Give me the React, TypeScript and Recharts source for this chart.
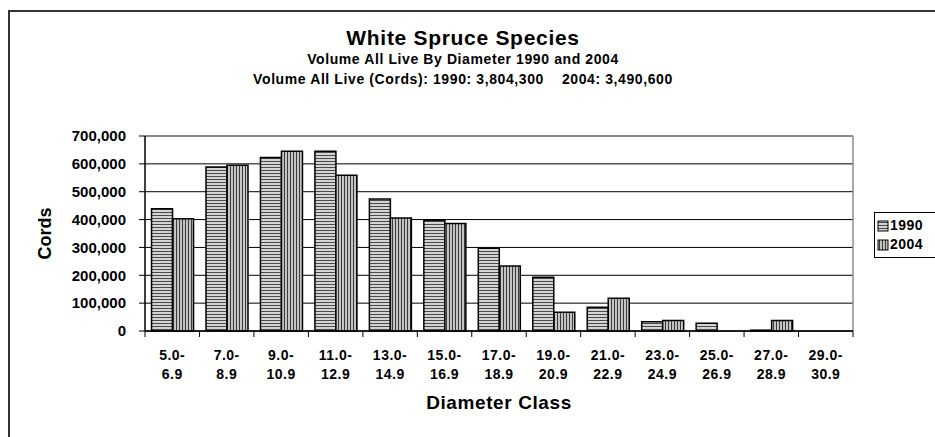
import { BarChart, Bar, XAxis, YAxis, CartesianGrid, Legend, ReferenceLine } from "recharts";

const diameterClasses = [
  "5.0-6.9", "7.0-8.9", "9.0-10.9", "11.0-12.9", "13.0-14.9", "15.0-16.9", "17.0-18.9",
  "19.0-20.9", "21.0-22.9", "23.0-24.9", "25.0-26.9", "27.0-28.9", "29.0-30.9",
];
const cords1990 = [439000, 589000, 623000, 645000, 474000, 398000, 297000, 193000, 85000, 33000, 28000, 3000, 0];
const cords2004 = [403000, 595000, 645000, 559000, 406000, 386000, 233000, 67000, 118000, 38000, 0, 38000, 0];
const yTicks = [0, 100000, 200000, 300000, 400000, 500000, 600000, 700000];

const seriesNames = ["1990", "2004"];
const patternIds = ["stripe-h", "stripe-v"];

const data = diameterClasses.map((c, i) => ({
  name: c,
  y1990: cords1990[i],
  y2004: cords2004[i],
}));

const FONT = "'Liberation Sans', Arial, sans-serif";
const LEGEND_W = 80;

const XTick = (props: any) => {
  const { x, y, payload, width, visibleTicksCount, index } = props;
  const band = width && visibleTicksCount ? width / visibleTicksCount : 708 / 13;
  const label: string = payload.value;
  const cut = label.indexOf("-") + 1;
  const isLast = index === visibleTicksCount - 1;
  return (
    <g>
      <line x1={x - band / 2} x2={x - band / 2} y1={y} y2={y + 6} stroke="#000" strokeWidth={1} />
      {isLast && <line x1={x + band / 2} x2={x + band / 2} y1={y} y2={y + 6} stroke="#000" strokeWidth={1} />}
      <text x={x} y={y + 29} textAnchor="middle" fontFamily={FONT} fontWeight="bold" fontSize={14} fill="#000" letterSpacing={0.5}>
        {label.slice(0, cut)}
      </text>
      <text x={x} y={y + 48} textAnchor="middle" fontFamily={FONT} fontWeight="bold" fontSize={14} fill="#000" letterSpacing={0.5}>
        {label.slice(cut)}
      </text>
    </g>
  );
};

const LegendBox = () => (
  <div
    style={{
      border: "1px solid #000",
      background: "#fff",
      padding: "3px 8px 3px 2px",
      fontFamily: FONT,
      fontWeight: "bold",
      fontSize: 14,
      lineHeight: "19px",
      letterSpacing: 0.5,
    }}
  >
    {seriesNames.map((n, i) => (
      <div key={n} style={{ display: "flex", alignItems: "center" }}>
        <svg width={12} height={12} style={{ marginRight: 1 }}>
          <rect x={1} y={1} width={10} height={10} fill={`url(#${patternIds[i]})`} stroke="#000" strokeWidth={1} />
        </svg>
        <span>{n}</span>
      </div>
    ))}
  </div>
);

export default function App() {
  return (
    <div style={{ position: "absolute", left: 0, top: 0, width: 935, height: 437, background: "#fff", overflow: "hidden" }}>
      <BarChart
        width={935}
        height={437}
        data={data}
        margin={{ top: 136, right: 82 - LEGEND_W, bottom: 26, left: 65 }}
        barCategoryGap="12%"
        barGap={0}
      >
        <defs>
          <pattern id="stripe-h" width={4} height={3} patternUnits="userSpaceOnUse">
            <rect width={4} height={3} fill="#d4d4d4" />
            <rect y={2} width={4} height={1} fill="#4a4a4a" />
          </pattern>
          <pattern id="stripe-v" width={3} height={4} patternUnits="userSpaceOnUse">
            <rect width={3} height={4} fill="#c4c4c4" />
            <rect x={2} width={1} height={4} fill="#3a3a3a" />
          </pattern>
        </defs>
        <CartesianGrid vertical={false} stroke="#000" strokeWidth={1} />
        <CartesianGrid
          horizontal={false}
          stroke="#8c8c8c"
          strokeWidth={1.5}
          verticalCoordinatesGenerator={({ offset }: any) => [offset.left + offset.width]}
        />
        <XAxis
          dataKey="name"
          interval={0}
          height={80}
          tickSize={0}
          tickMargin={0}
          tickLine={false}
          axisLine={{ stroke: "#000", strokeWidth: 1.5 }}
          tick={<XTick />}
          label={{
            content: (p: any) => {
              const vb = p.viewBox || { x: 145, y: 331, width: 708 };
              return (
                <text x={vb.x + vb.width / 2} y={vb.y + 78} textAnchor="middle" fontFamily={FONT} fontWeight="bold" fontSize={19} letterSpacing={0.6} fill="#000">
                  Diameter Class
                </text>
              );
            },
          }}
        />
        <YAxis
          width={80}
          domain={[0, 700000]}
          ticks={yTicks}
          interval={0}
          tickSize={6}
          tickMargin={13}
          axisLine={{ stroke: "#000", strokeWidth: 1.5 }}
          tickLine={{ stroke: "#000" }}
          tick={{ fill: "#000", fontFamily: FONT, fontWeight: "bold", fontSize: 15 }}
          tickFormatter={(v: number) => v.toLocaleString("en-US")}
          label={{
            content: (p: any) => {
              const vb = p.viewBox || { x: 65, y: 136, height: 195 };
              const cx = vb.x - 20;
              const cy = vb.y + vb.height / 2;
              return (
                <text x={cx} y={cy} transform={`rotate(-90 ${cx} ${cy})`} textAnchor="middle" dominantBaseline="central" fontFamily={FONT} fontWeight="bold" fontSize={18} fill="#000">
                  Cords
                </text>
              );
            },
          }}
        />
        <ReferenceLine y={700000} stroke="#8c8c8c" strokeWidth={1.5} />
        <Legend
          layout="vertical"
          align="right"
          verticalAlign="top"
          wrapperStyle={{ position: "absolute", left: 874, top: 212, width: LEGEND_W }}
          content={<LegendBox />}
        />
        <Bar dataKey="y1990" name="1990" fill="url(#stripe-h)" stroke="#000" strokeWidth={1.5} isAnimationActive={false} />
        <Bar dataKey="y2004" name="2004" fill="url(#stripe-v)" stroke="#000" strokeWidth={1.5} isAnimationActive={false} />
      </BarChart>
      <svg width={935} height={437} style={{ position: "absolute", left: 0, top: 0, pointerEvents: "none" }}>
        <path d="M9 437 L9 11 L935 11" fill="none" stroke="#333" strokeWidth={2} />
        <text x={463} y={45} textAnchor="middle" fontFamily={FONT} fontWeight="bold" fontSize={21} letterSpacing={0.7} fill="#000">
          White Spruce Species
        </text>
        <text x={463} y={64} textAnchor="middle" fontFamily={FONT} fontWeight="bold" fontSize={14} letterSpacing={0.6} fill="#000">
          Volume All Live By Diameter 1990 and 2004
        </text>
        <text x={463} y={84} textAnchor="middle" fontFamily={FONT} fontWeight="bold" fontSize={14} letterSpacing={0.6} fill="#000" style={{ whiteSpace: "pre" }}>
          {"Volume All Live (Cords): 1990: 3,804,300    2004: 3,490,600"}
        </text>
      </svg>
    </div>
  );
}
